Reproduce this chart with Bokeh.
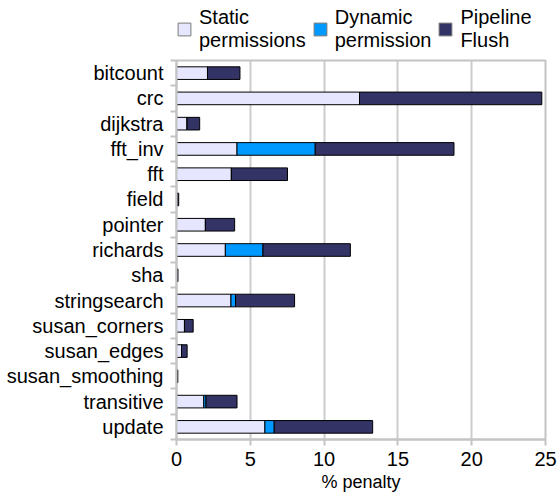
from bokeh.plotting import figure
from bokeh.layouts import column
from bokeh.models import Range1d, FixedTicker, Legend, LegendItem, ColumnDataSource
from bokeh.embed import file_html
from bokeh.resources import INLINE

categories = ["bitcount", "crc", "dijkstra", "fft_inv", "fft", "field", "pointer",
              "richards", "sha", "stringsearch", "susan_corners", "susan_edges",
              "susan_smoothing", "transitive", "update"]
static_perm = [2.1, 12.4, 0.72, 4.1, 3.72, 0.03, 1.96, 3.31, 0.02, 3.69, 0.54, 0.34, 0.02, 1.85, 5.99]
dynamic_perm = [0.0, 0.0, 0.0, 5.3, 0.0, 0.0, 0.0, 2.55, 0.0, 0.31, 0.0, 0.0, 0.03, 0.15, 0.63]
pipeline_flush = [2.2, 12.35, 0.85, 9.4, 3.8, 0.12, 1.98, 5.92, 0.08, 4.0, 0.59, 0.38, 0.04, 2.1, 6.67]
x_ticks = [0, 5, 10, 15, 20, 25]
series_labels = ["Static\npermissions", "Dynamic\npermission", "Pipeline\nFlush"]
series_colors = ["#e6e6ff", "#0099ff", "#333366"]
series_fields = ["static", "dynamic", "flush"]

pos = list(range(len(categories)))
source = ColumnDataSource(dict(y=pos, static=static_perm, dynamic=dynamic_perm, flush=pipeline_flush))

# ---- legend strip on top (legend-only figure) ----
lp = figure(width=560, height=52, x_range=Range1d(0, 25), y_range=Range1d(0, 1),
            output_backend="svg", toolbar_location=None,
            min_border_left=176, min_border_right=15, min_border_top=0, min_border_bottom=0)
lp.axis.visible = False
lp.grid.visible = False
lp.outline_line_color = None
lp.background_fill_color = "white"
lp.border_fill_color = "white"
leg_rs = [lp.hbar(y="y", right=f, height=0.5, source=source, fill_color=c,
                  line_color="#7a7a7a", line_width=1, visible=False)
          for f, c in zip(series_fields, series_colors)]
legend = Legend(items=[LegendItem(label=l, renderers=[r]) for l, r in zip(series_labels, leg_rs)],
                orientation="horizontal", location=(0, 0),
                glyph_width=16, glyph_height=16, label_standoff=7, spacing=6,
                padding=0, margin=0, border_line_color=None, background_fill_alpha=0,
                label_text_font="Liberation Sans", label_text_font_size="20px",
                label_text_color="#000000",
                label_text_line_height=1.05, label_height=16)
lp.add_layout(legend, "center")

# ---- main chart ----
p = figure(width=560, height=446, x_range=Range1d(0, 25), y_range=Range1d(len(categories) - 0.5, -0.5),
           output_backend="svg", toolbar_location=None,
           min_border_left=176, min_border_right=15, min_border_top=8, min_border_bottom=59)

p.hbar_stack(series_fields, y="y", height=0.5, source=source,
             fill_color=series_colors, line_color="#000000", line_width=1)

p.background_fill_color = "white"
p.border_fill_color = "white"
p.outline_line_color = "#c4c4c4"
p.outline_line_width = 2

p.xaxis.ticker = FixedTicker(ticks=x_ticks)
p.xaxis.axis_label = "% penalty"
p.xaxis.axis_label_text_font = "Liberation Sans"
p.xaxis.axis_label_text_font_style = "normal"
p.xaxis.axis_label_text_font_size = "18px"
p.xaxis.axis_label_text_color = "#000000"
p.xaxis.axis_label_standoff = 3
p.xaxis.major_label_text_font = "Liberation Sans"
p.xaxis.major_label_text_font_size = "20px"
p.xaxis.major_label_text_color = "#000000"
p.xaxis.major_label_standoff = 6
p.xaxis.major_tick_out = 6
p.xaxis.major_tick_in = 0
p.xaxis.major_tick_line_color = "#c4c4c4"
p.xaxis.major_tick_line_width = 2
p.xaxis.minor_tick_line_color = None
p.xaxis.axis_line_color = "#c4c4c4"
p.xaxis.axis_line_width = 2

p.yaxis.ticker = FixedTicker(ticks=pos, minor_ticks=[i - 0.5 for i in range(len(categories) + 1)])
p.yaxis.major_label_overrides = {i: c for i, c in zip(pos, categories)}
p.yaxis.major_label_text_font = "Liberation Sans"
p.yaxis.major_label_text_font_size = "20px"
p.yaxis.major_label_text_color = "#000000"
p.yaxis.major_tick_line_color = None
p.yaxis.major_tick_out = 6
p.yaxis.major_tick_in = 0
p.yaxis.major_label_standoff = 7
p.yaxis.minor_tick_out = 6
p.yaxis.minor_tick_in = 0
p.yaxis.minor_tick_line_color = "#c4c4c4"
p.yaxis.minor_tick_line_width = 2
p.yaxis.axis_line_color = "#c4c4c4"
p.yaxis.axis_line_width = 2

p.xgrid.grid_line_color = "#cccccc"
p.xgrid.grid_line_width = 2
p.ygrid.grid_line_color = None

layout = column(lp, p, spacing=0)
open("out.html", "w").write(file_html(layout, INLINE))
